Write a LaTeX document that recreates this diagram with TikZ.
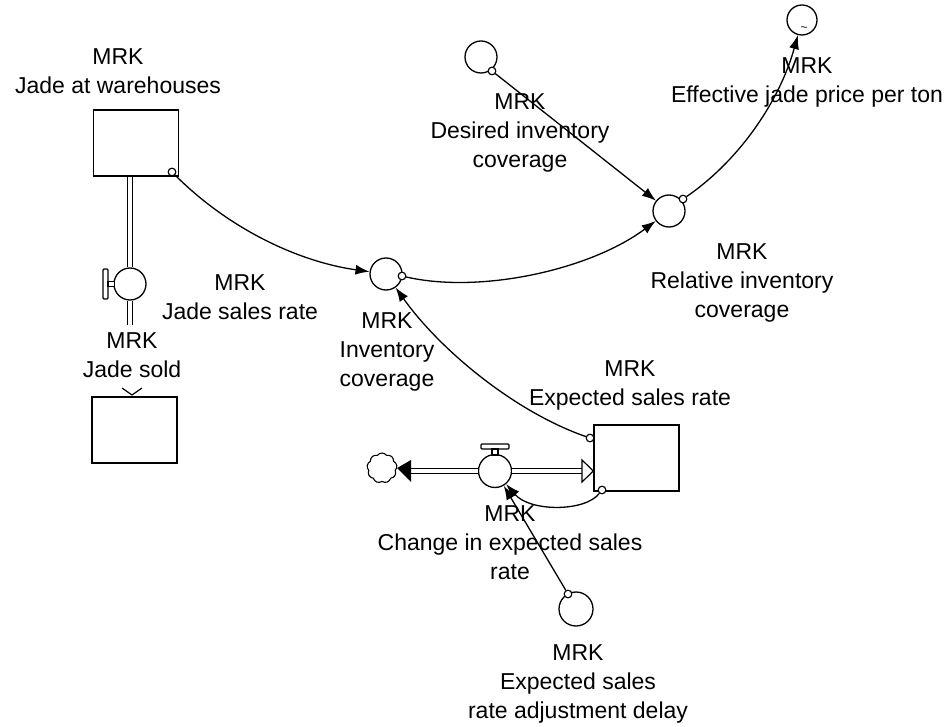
\documentclass[tikz,border=0pt]{standalone}
\usepackage{fontspec}
\setmainfont{Liberation Sans}
\usetikzlibrary{arrows.meta,shapes.symbols}
\begin{document}
\begin{tikzpicture}[x=1pt,y=-1pt,
  every node/.style={font=\fontsize{23}{29}\selectfont},
  lbl/.style={align=center, inner sep=0pt, anchor=north},
  aux/.style={circle, draw, line width=1.3pt, minimum size=32pt, inner sep=0pt},
  stock/.style={draw, line width=1.3pt, inner sep=0pt, minimum width=85pt, minimum height=66pt},
  linkdot/.style={circle, draw, fill=white, line width=1pt, minimum size=7.5pt, inner sep=0pt},
  link/.style={line width=1.3pt, -{Latex[length=14pt,width=10pt]}},
  pipe/.style={double, double distance=3.5pt, line width=1.2pt},
  handle/.style={draw, fill=white, line width=1.1pt},
]
\useasboundingbox (0,0) rectangle (945,727);

% stocks
\node[stock] (wh)  at (136,143) {};
\node[stock] (sold) at (134.5,430) {};
\node[stock] (esr) at (636.5,458) {};

% auxiliaries
\node[aux] (des) at (481,57) {};
\node[aux, minimum size=30pt] (eff) at (802,20) {};
\node[font=\fontsize{12}{12}\selectfont, inner sep=0pt] (tilde) at (804,29) {\textasciitilde};
\node[aux] (rel) at (669,211) {};
\node[aux] (ic)  at (386,274) {};
\node[aux, minimum size=34pt] (delay) at (576,609) {};

% flow: Jade sales rate
\node[aux] (v1) at (130,284) {};
\coordinate (p1end) at (130,325);
\draw[pipe] (v1 |- wh.south) -- (v1.north);
\draw[pipe] (v1.south) -- (p1end);
\draw[handle, rounded corners=1pt] (103,269) rectangle (108,299);
\draw[handle] (108,281.5) rectangle (114.2,286.5);
\coordinate (vtip) at (132,395);
\draw[line width=1.2pt] ([shift={(-10,-7)}]vtip) -- (vtip) -- ([shift={(10,-7)}]vtip);

% flow: Change in expected sales rate
\node[aux, minimum size=33pt] (v2) at (495,471) {};
\node[cloud, draw, cloud puffs=9, cloud puff arc=110, aspect=1,
      minimum width=30pt, minimum height=30pt, line width=1.1pt, inner sep=0pt] (cloud) at (382,468) {};
\coordinate (lhead) at (411,471);
\coordinate (rhead) at (582,471);
\draw[pipe] (v2.west) -- (lhead);
\draw[pipe] (v2.east) -- (rhead);
\fill ([yshift=-11]lhead) -- (cloud.east) -- ([yshift=11]lhead) -- cycle;
\draw[line width=1.2pt, fill=white] ([yshift=-11]rhead) -- (esr.west |- rhead) -- ([yshift=11]rhead) -- cycle;
\draw[handle, rounded corners=1pt] (481,444) rectangle (509,449);
\draw[handle] (492,449) rectangle (498,455);

% information links
\node[linkdot] (d1) at (172,172) {};
\node[linkdot] (d2) at (402,276) {};
\node[linkdot] (d3) at (492,71) {};
\node[linkdot] (d4) at (683,199) {};
\node[linkdot] (d5) at (590,438) {};
\node[linkdot] (d6) at (602,490) {};
\node[linkdot] (d7) at (568,594) {};

\draw[link] (d1) .. controls (230,230) and (300,262) .. (ic);
\draw[link] (d2) .. controls (480,294) and (590,270) .. (rel);
\draw[link] (d3) -- (rel);
\draw[link] (d4) .. controls (740,160) and (780,100) .. (eff);
\draw[link] (d5) .. controls (515,412) and (440,350) .. (ic);
\draw[link] (d6) .. controls (585,512) and (530,512) .. (v2);
\draw[link] (d7) -- (v2);

% redraw link dots on top
\foreach \d in {d1,d2,d3,d4,d5,d6,d7}
  \node[linkdot] at (\d) {};

% labels
\node[lbl] (t-wh)    at (118,48)  {MRK\\Jade at warehouses};
\node[lbl] (t-v1)    at (240,274) {MRK\\Jade sales rate};
\node[lbl] (t-sold)  at (132,332) {MRK\\Jade sold};
\node[lbl] (t-des)   at (520,93)  {MRK\\Desired inventory\\coverage};
\node[lbl] (t-eff)   at (807,57)  {MRK\\Effective jade price per ton};
\node[lbl] (t-rel)   at (742,243) {MRK\\Relative inventory\\coverage};
\node[lbl] (t-ic)    at (387,312) {MRK\\Inventory\\coverage};
\node[lbl] (t-esr)   at (630,360) {MRK\\Expected sales rate};
\node[lbl] (t-v2)    at (510,505) {MRK\\Change in expected sales\\rate};
\node[lbl] (t-delay) at (578,644) {MRK\\Expected sales\\rate adjustment delay};
\end{tikzpicture}
\end{document}
